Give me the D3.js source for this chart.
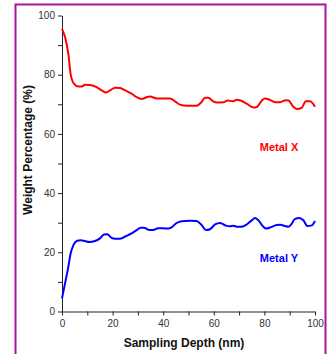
<!DOCTYPE html>
<html>
<head>
<meta charset="utf-8">
<script src="https://cdn.jsdelivr.net/npm/d3@7"></script>
<style>
  body { margin: 0; background: #fff; }
  svg { display: block; font-family: Arial, "Liberation Sans", sans-serif; }
</style>
</head>
<body>
<svg id="chart" width="331" height="354"></svg>
<script>
// Metal X (red)
const depthX = [0, 1.2, 2.5, 3.4, 4.7, 6.5, 7.8, 9.1, 11, 13.7, 15.7, 17.4, 19, 21, 23, 25, 27.5, 29.5, 31.5, 33.5, 34.8, 37.4, 42.7, 44.7, 46.6, 49.3, 53.2, 55.2, 56.5, 57.8, 59.8, 61, 63.8, 65.5, 67.5, 69, 70.6, 73, 75.6, 77, 79, 80.2, 82.2, 84.2, 86.2, 88.5, 89.5, 91.4, 92.8, 94.7, 96.4, 98, 100];
const metalX = [95.5, 92.7, 87, 80.3, 77, 76, 76, 76.6, 76.5, 75.8, 74.7, 74, 74.7, 75.6, 75.5, 74.7, 73.6, 72.4, 71.8, 72.4, 72.6, 72, 72, 71, 69.9, 69.5, 69.5, 70.8, 72.2, 72.2, 71, 70.6, 70.7, 71.3, 71, 71.5, 71.3, 70.2, 68.9, 69.1, 71.3, 72, 71.5, 70.7, 70.7, 71.4, 71.3, 69.2, 68.4, 68.8, 71, 71, 69.2];

// Metal Y (blue)
const depthY = [0, 1.2, 2.5, 3.4, 4.5, 6, 7.4, 9.1, 10.8, 13, 15, 16.6, 17.9, 19.6, 21, 23, 25.3, 27.5, 29.5, 31, 32.4, 34.5, 36, 38, 40, 42, 43.3, 45.3, 47.3, 50.6, 53.2, 55.2, 56.9, 58.5, 60.5, 62.5, 64.8, 66.4, 67.7, 69.3, 71, 73, 75, 76.3, 77.6, 79.6, 80.6, 82.9, 84.8, 86.2, 88.1, 89.5, 90.8, 92, 93.8, 95.4, 97, 98.7, 100];
const metalY = [4.4, 9.5, 15.1, 19.6, 22.4, 23.9, 24.1, 23.8, 23.5, 23.8, 24.7, 26, 26.1, 24.9, 24.6, 24.6, 25.5, 26.4, 27.5, 28.3, 28.3, 27.5, 27.5, 28.1, 28.1, 28, 28.4, 29.9, 30.5, 30.7, 30.6, 29.2, 27.5, 27.8, 29.4, 29.9, 29, 28.8, 29, 28.6, 28.6, 29.4, 30.8, 31.6, 30.8, 28.6, 28, 28.6, 29.2, 29.3, 28.9, 28.6, 29.7, 31.2, 31.6, 30.8, 28.9, 29.1, 30.6];

const xTicks = [0, 20, 40, 60, 80, 100];
const yTicks = [0, 20, 40, 60, 80, 100];

const svg = d3.select("#chart");

// frame
svg.append("path")
    .attr("d", "M15.5,354 V4.5 H325.5 V354")
    .attr("fill", "none")
    .attr("stroke", "#a8179b")
    .attr("stroke-width", 2);

const x = d3.scaleLinear().domain([0, 100]).range([62, 315]);
const y = d3.scaleLinear().domain([0, 100]).range([311.5, 15.5]);

// axes
const yAxis = svg.append("g")
    .attr("transform", `translate(${x(0)},0)`)
    .call(d3.axisLeft(y).tickValues(d3.range(0, 101, 10)).tickSize(4).tickSizeOuter(0)
        .tickFormat(d => yTicks.includes(d) ? d : ""));

const xAxis = svg.append("g")
    .attr("transform", `translate(0,${y(0)})`)
    .call(d3.axisBottom(x).tickValues(d3.range(0, 101, 10)).tickSize(4).tickSizeOuter(0)
        .tickFormat(d => xTicks.includes(d) ? d : ""));

[xAxis, yAxis].forEach(a => {
    a.select(".domain").attr("stroke", "#222");
    a.selectAll(".tick line").attr("stroke", "#222");
    a.selectAll("text").attr("fill", "#333").attr("font-size", 10).attr("font-family", "Arial, 'Liberation Sans', sans-serif");
});
yAxis.selectAll("text").attr("x", -7);
xAxis.selectAll("text").attr("y", 8);

// lines
const line = d3.line().curve(d3.curveMonotoneX);

svg.append("path")
    .datum(depthX.map((d, i) => [x(d), y(metalX[i])]))
    .attr("d", line)
    .attr("fill", "none")
    .attr("stroke", "#ff0000")
    .attr("stroke-width", 2);

svg.append("path")
    .datum(depthY.map((d, i) => [x(d), y(metalY[i])]))
    .attr("d", line)
    .attr("fill", "none")
    .attr("stroke", "#0000ff")
    .attr("stroke-width", 2);

// series labels
svg.append("text")
    .attr("x", 279).attr("y", 151)
    .attr("text-anchor", "middle")
    .attr("font-size", 11).attr("font-weight", "bold")
    .attr("fill", "#ff0000")
    .text("Metal X");

svg.append("text")
    .attr("x", 279).attr("y", 262)
    .attr("text-anchor", "middle")
    .attr("font-size", 11).attr("font-weight", "bold")
    .attr("fill", "#0000ff")
    .text("Metal Y");

// axis titles
svg.append("text")
    .attr("x", 184).attr("y", 347)
    .attr("text-anchor", "middle")
    .attr("font-size", 12).attr("font-weight", "bold")
    .attr("fill", "#111")
    .text("Sampling Depth (nm)");

svg.append("text")
    .attr("transform", "translate(32,150) rotate(-90)")
    .attr("text-anchor", "middle")
    .attr("font-size", 12).attr("font-weight", "bold")
    .attr("fill", "#111")
    .text("Weight Percentage (%)");
</script>
</body>
</html>
